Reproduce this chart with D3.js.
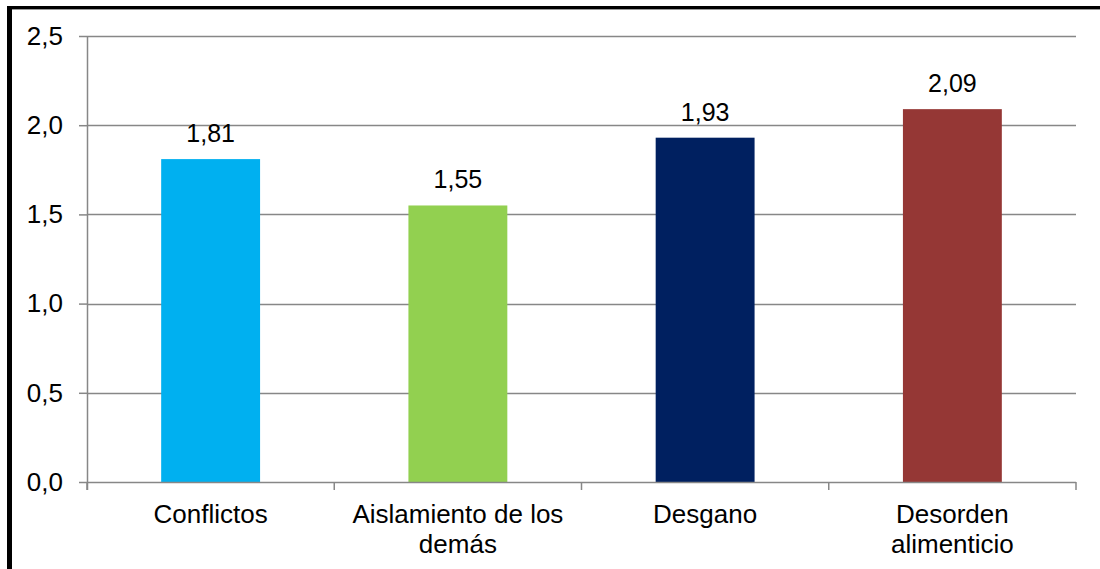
<!DOCTYPE html>
<html><head><meta charset="utf-8">
<script src="https://cdn.jsdelivr.net/npm/d3@7"></script>
<style>html,body{margin:0;padding:0;background:#fff;}svg{display:block;}</style>
</head><body>
<svg id="chart" width="1100" height="569"></svg>
<script>
const categories = [["Conflictos"], ["Aislamiento de los", "demás"], ["Desgano"], ["Desorden", "alimenticio"]];
const values = [1.81, 1.55, 1.93, 2.09];
const valueLabels = ["1,81", "1,55", "1,93", "2,09"];
const colors = ["#00B0F0", "#92D050", "#002060", "#953735"];
const yTicks = [0, 0.5, 1.0, 1.5, 2.0, 2.5];
const yTickLabels = ["0,0", "0,5", "1,0", "1,5", "2,0", "2,5"];

(function(){
const svg = d3.select("#chart");
const font = "'Liberation Sans', Arial, sans-serif";
const pL = 87, pR = 1076, pT = 36, pB = 482;
const grid = "#878787";

svg.append("rect").attr("width",1100).attr("height",569).attr("fill","#fff");
// frame
svg.append("line").attr("x1",7).attr("x2",1100).attr("y1",9.5).attr("y2",9.5).attr("stroke","#999").attr("stroke-width",1);
svg.append("line").attr("x1",7).attr("x2",1100).attr("y1",7.5).attr("y2",7.5).attr("stroke","#000").attr("stroke-width",3);
svg.append("line").attr("x1",9.5).attr("x2",9.5).attr("y1",6).attr("y2",569).attr("stroke","#000").attr("stroke-width",5);

const x = d3.scaleBand().domain(d3.range(categories.length)).range([pL, pR]).paddingInner(0).paddingOuter(0);
const y = d3.scaleLinear().domain([0, 2.5]).range([pB, pT]);

// gridlines
svg.append("g").selectAll("line").data(yTicks.filter(d=>d>0)).join("line")
  .attr("x1", pL).attr("x2", pR)
  .attr("y1", d=>Math.round(y(d))+0.5).attr("y2", d=>Math.round(y(d))+0.5)
  .attr("stroke", grid).attr("stroke-width",1.5);

// bars
const bw = x.bandwidth()*0.4;
svg.append("g").selectAll("rect").data(values).join("rect")
  .attr("x", (d,i)=>x(i)+x.bandwidth()/2-bw/2)
  .attr("width", bw)
  .attr("y", d=>y(d)).attr("height", d=>pB-y(d))
  .attr("fill", (d,i)=>colors[i]);

// y axis
const yAxis = d3.axisLeft(y).tickValues(yTicks).tickFormat((d,i)=>yTickLabels[i]).tickSize(8).tickPadding(16);
const gy = svg.append("g").attr("transform",`translate(${pL},0)`).call(yAxis);
gy.select(".domain").attr("stroke",grid).attr("stroke-width",1.5).attr("d",`M0.5,${pT}V${pB+8}`);
gy.selectAll(".tick line").attr("stroke",grid).attr("stroke-width",1.5);
gy.selectAll(".tick text").attr("font-family",font).attr("font-size",26).attr("fill","#000");

// x axis
const xAxis = d3.axisBottom(x).tickValues([]).tickSize(0);
const gx = svg.append("g").attr("transform",`translate(0,${pB})`).call(xAxis);
gx.select(".domain").attr("stroke",grid).attr("stroke-width",1.5).attr("d",`M${pL},0.5H${pR}`);
gx.selectAll("line.sep").data(d3.range(categories.length+1)).join("line").attr("class","sep")
  .attr("x1",i=>i<categories.length? x(i): pR).attr("x2",i=>i<categories.length? x(i): pR)
  .attr("y1",0).attr("y2",8).attr("stroke",grid).attr("stroke-width",1.5);

// category labels
const cl = svg.append("g").selectAll("text").data(categories).join("text")
  .attr("font-family",font).attr("font-size",26).attr("fill","#000").attr("text-anchor","middle")
  .attr("transform",(d,i)=>`translate(${x(i)+x.bandwidth()/2},523)`);
cl.selectAll("tspan").data(d=>d).join("tspan").attr("x",0).attr("dy",(d,j)=>j===0?0:30).text(d=>d);

// value labels
svg.append("g").selectAll("text").data(values).join("text")
  .attr("font-family",font).attr("font-size",25).attr("fill","#000").attr("text-anchor","middle")
  .attr("x",(d,i)=>x(i)+x.bandwidth()/2).attr("y",d=>y(d)-17)
  .text((d,i)=>valueLabels[i]);
})();
</script>
</body></html>
